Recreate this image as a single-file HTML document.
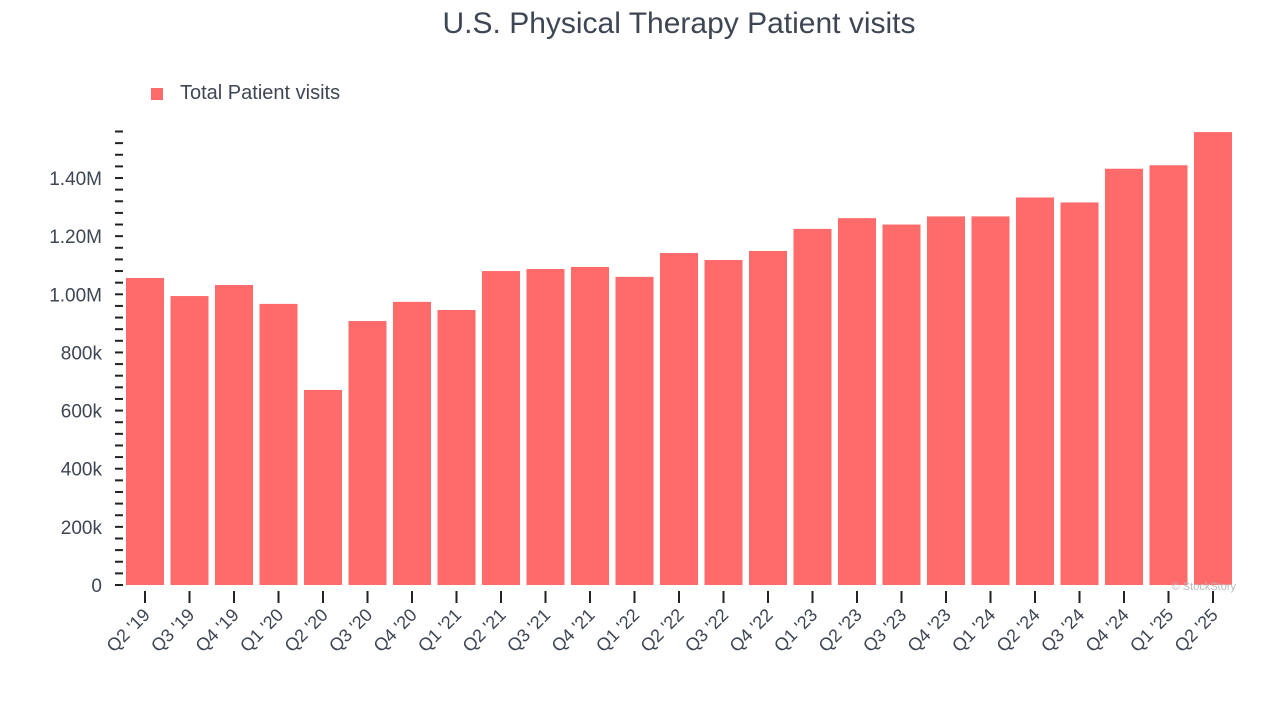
<!DOCTYPE html>
<html><head><meta charset="utf-8"><style>
body{margin:0;background:#fff;font-family:"Liberation Sans",Arial,sans-serif}
</style></head><body>
<svg id="chart" width="1280" height="720" xmlns="http://www.w3.org/2000/svg">
<text x="679" y="33" text-anchor="middle" font-size="30" fill="#3e4654">U.S. Physical Therapy Patient visits</text>
<rect x="151" y="88" width="12" height="12" fill="#ff6b6b"/>
<text x="180" y="99" font-size="20" fill="#3e4654">Total Patient visits</text>
<g id="axes"></g><g id="bars"></g>
<text x="1236" y="590" text-anchor="end" font-size="11" fill="#bbb">© StockStory</text>
</svg>
<script>
const categories=["Q2 '19","Q3 '19","Q4 '19","Q1 '20","Q2 '20","Q3 '20","Q4 '20","Q1 '21","Q2 '21","Q3 '21","Q4 '21","Q1 '22","Q2 '22","Q3 '22","Q4 '22","Q1 '23","Q2 '23","Q3 '23","Q4 '23","Q1 '24","Q2 '24","Q3 '24","Q4 '24","Q1 '25","Q2 '25"];
const visits=[1056000,994000,1032000,967000,671000,908000,974000,946000,1080000,1087000,1094000,1060000,1142000,1118000,1149000,1225000,1262000,1240000,1268000,1268000,1333000,1316000,1432000,1444000,1558000];
const tickValues=[0,200000,400000,600000,800000,1000000,1200000,1400000];
const tickLabels=["0","200k","400k","600k","800k","1.00M","1.20M","1.40M"];
const NS="http://www.w3.org/2000/svg";
const y0=585,pxPer=58.14/200000;
function yScale(v){return y0-v*pxPer;}
const x0=145,step=(1213-145)/24,bw=38;
function xScale(i){return x0+i*step;}
const bars=document.getElementById('bars'),axes=document.getElementById('axes');
function mk(t,a,p){const e=document.createElementNS(NS,t);for(const k in a)e.setAttribute(k,a[k]);p.appendChild(e);return e;}
for(let v=0;v<=1560000;v+=40000){
 const l=mk('line',{x1:115,x2:123,y1:yScale(v),y2:yScale(v),stroke:'#222','stroke-width':2},axes);
 
 
}
tickValues.forEach((v,i)=>{
 const t=mk('text',{x:102,y:yScale(v)+7,'text-anchor':'end','font-size':19,fill:'#3e4654'},axes);
 t.textContent=tickLabels[i];
 
 
});
categories.forEach((c,i)=>{
 const x=xScale(i);
 const r=mk('rect',{x:x-bw/2,y:yScale(visits[i]),width:bw,height:visits[i]*pxPer,fill:'#ff6b6b'},bars);
 
 
 const tk=mk('line',{x1:x,x2:x,y1:591,y2:603,stroke:'#222','stroke-width':2},axes);
 
 
 const t=mk('text',{x:x+6,y:616,'text-anchor':'end','font-size':18,fill:'#3e4654',transform:`rotate(-45 ${x+6} 616)`},axes);
 t.textContent=c;
 
 
});
</script>
</body></html>
